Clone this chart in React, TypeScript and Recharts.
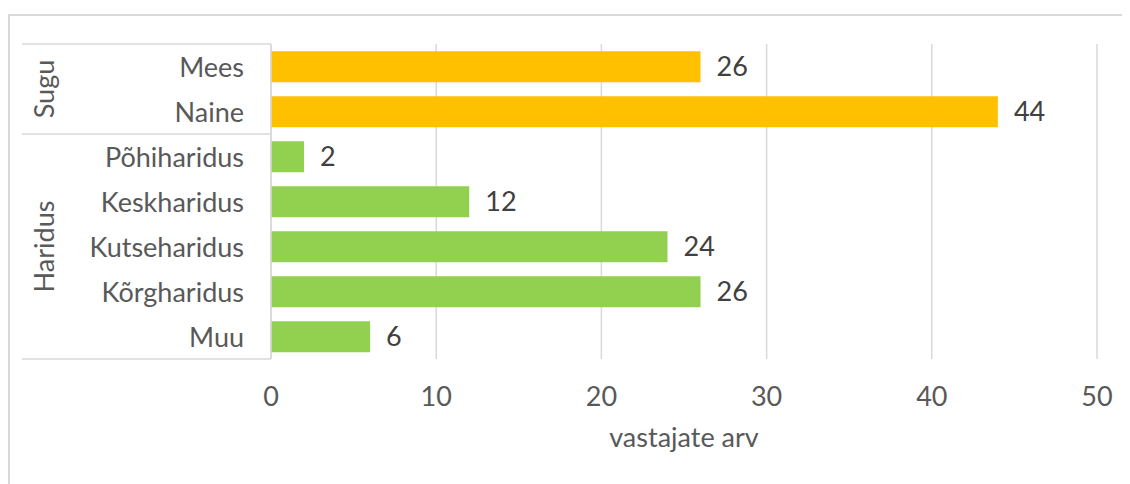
import { BarChart, Bar, XAxis, YAxis, CartesianGrid, Cell, LabelList } from 'recharts';

const categories = ['Mees', 'Naine', 'Põhiharidus', 'Keskharidus', 'Kutseharidus', 'Kõrgharidus', 'Muu'];
const values = [26, 44, 2, 12, 24, 26, 6];
const groups = ['Sugu', 'Sugu', 'Haridus', 'Haridus', 'Haridus', 'Haridus', 'Haridus'];
const xTicks = [0, 10, 20, 30, 40, 50];

const groupColors: Record<string, string> = {
  Sugu: '#FFC000',
  Haridus: '#92D050',
};

const data = categories.map((name, i) => ({ name, value: values[i], group: groups[i] }));

const FONT = 'Lato, "Open Sans", sans-serif';
const FS = 27;
const GRID = '#d9d9d9';
const W = 1120;
const H = 466;
const TOP = 28;
const PLOT_H = 315;
const AXIS_W = 261;
const band = PLOT_H / categories.length;

function CategoryTick(props: any) {
  const { x, y, payload, index } = props;
  const group = groups[index];
  const isFirst = index === 0 || groups[index - 1] !== group;
  const isLast = index === groups.length - 1;
  const count = groups.filter((g) => g === group).length;
  const groupMid = y - band / 2 + (count * band) / 2;
  return (
    <g>
      <text x={x} y={y} textAnchor="end" dominantBaseline="central" fill="#595959" fontSize={FS} fontFamily={FONT}>
        {payload.value}
      </text>
      {isFirst && (
        <>
          <line x1={12} x2={AXIS_W} y1={y - band / 2} y2={y - band / 2} stroke={GRID} strokeWidth={1.5} />
          <text
            x={33}
            y={groupMid}
            transform={`rotate(-90, 33, ${groupMid})`}
            textAnchor="middle"
            dominantBaseline="central"
            fill="#595959"
            fontSize={FS}
            fontFamily={FONT}
          >
            {group}
          </text>
        </>
      )}
      {isLast && <line x1={12} x2={AXIS_W} y1={y + band / 2} y2={y + band / 2} stroke={GRID} strokeWidth={1.5} />}
    </g>
  );
}

export default function App() {
  return (
    <div
      style={{
        marginTop: 6,
        width: 1122,
        height: 470,
        boxSizing: 'border-box',
        borderTop: `2px solid ${GRID}`,
        borderLeft: `2px solid ${GRID}`,
        background: 'white',
        overflow: 'hidden',
      }}
    >
      <BarChart
        width={W}
        height={H}
        data={data}
        layout="vertical"
        margin={{ top: TOP, right: 33, bottom: 0, left: 0 }}
        barCategoryGap="16%"
      >
        <CartesianGrid horizontal={false} stroke={GRID} strokeWidth={1.5} />
        <XAxis
          type="number"
          domain={[0, 50]}
          ticks={xTicks}
          axisLine={false}
          tickLine={false}
          tickSize={0}
          tickMargin={28}
          height={H - TOP - PLOT_H}
          tick={{ fill: '#595959', fontSize: FS, fontFamily: FONT }}
          label={{
            value: 'vastajate arv',
            position: 'insideBottom',
            offset: 35,
            fill: '#595959',
            fontSize: FS,
            fontFamily: FONT,
          }}
        />
        <YAxis
          type="category"
          dataKey="name"
          width={AXIS_W}
          axisLine={{ stroke: GRID, strokeWidth: 1.5 }}
          tickLine={false}
          tickSize={0}
          tickMargin={27}
          interval={0}
          tick={<CategoryTick />}
        />
        <Bar dataKey="value" isAnimationActive={false}>
          {data.map((d, i) => (
            <Cell key={i} fill={groupColors[d.group]} />
          ))}
          <LabelList dataKey="value" position="right" offset={16} fill="#404040" fontSize={FS} fontFamily={FONT} />
        </Bar>
      </BarChart>
    </div>
  );
}
